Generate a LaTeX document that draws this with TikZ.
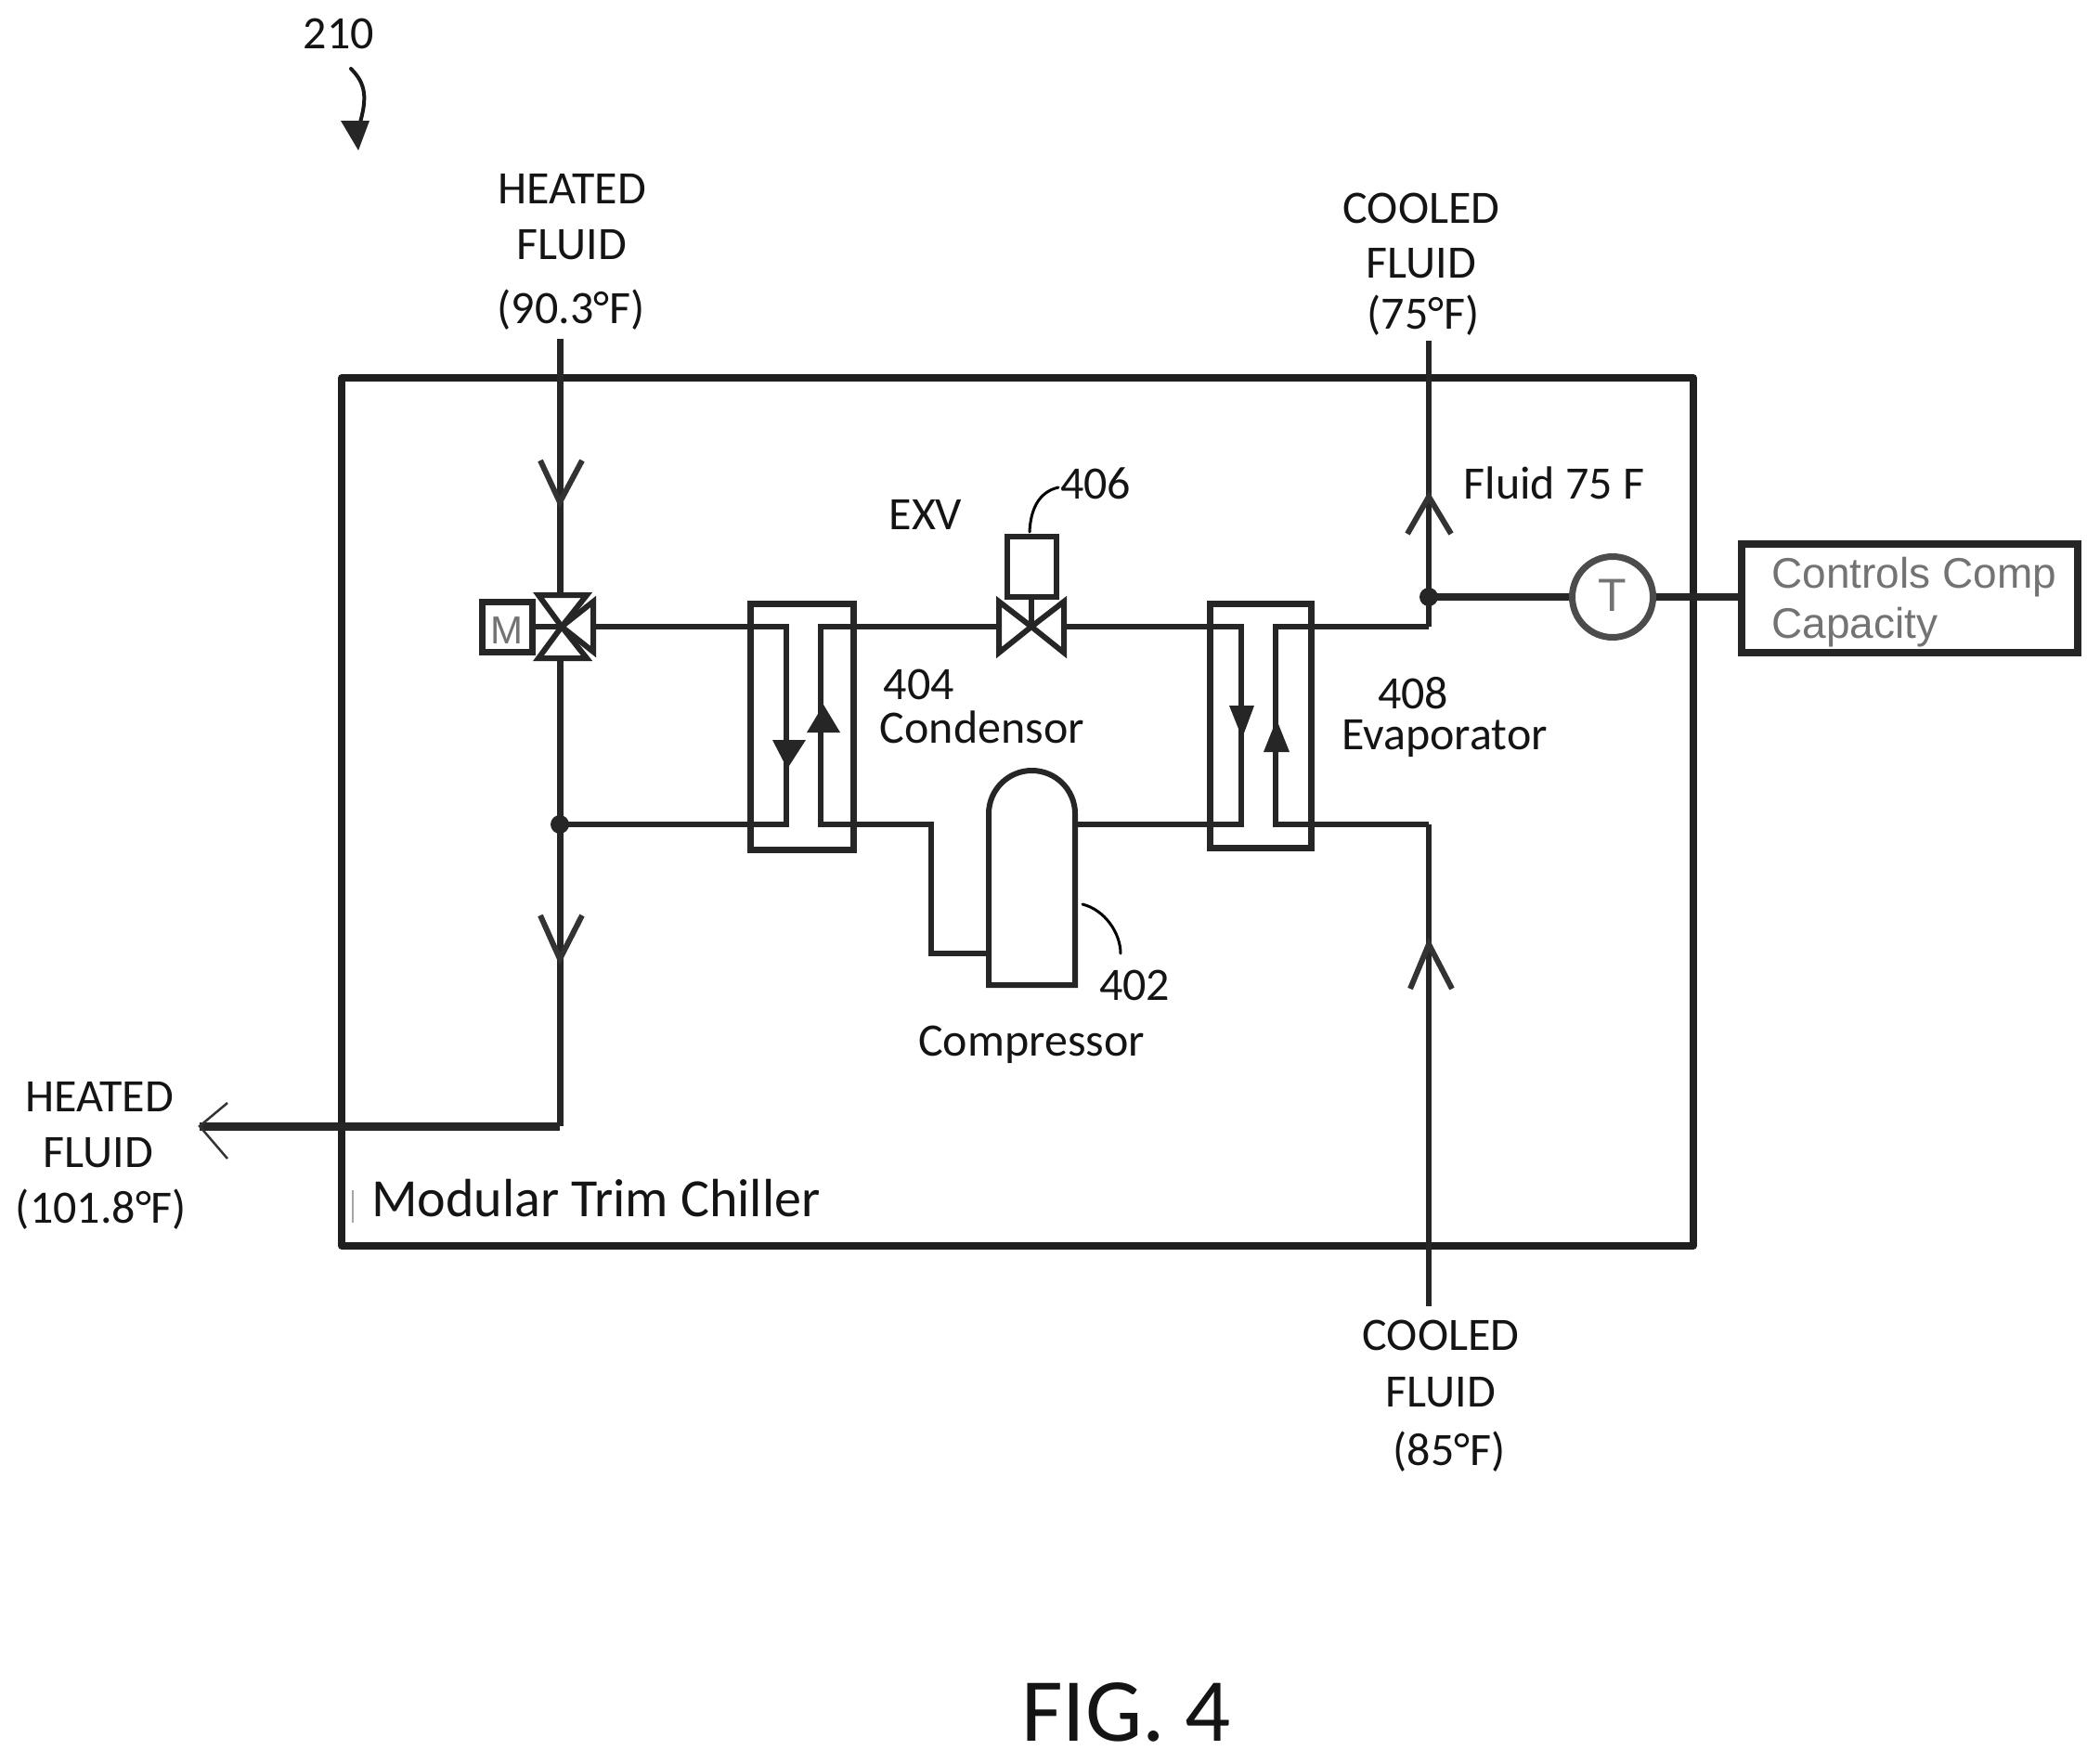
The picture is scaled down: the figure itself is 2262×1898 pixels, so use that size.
\documentclass[tikz,border=0pt]{standalone}
\usepackage{fontspec}
\setmainfont{Carlito}
\newfontfamily\fuzzy{Liberation Sans}
\newcommand{\fs}[1]{\fontsize{#1}{#1}\selectfont}
\tikzset{
  lbl/.style={inner sep=0pt,anchor=base,font=\fs{50},text=black!92},
  lblw/.style={inner sep=0pt,anchor=base west,font=\fs{50},text=black!92},
  gr/.style={inner sep=0pt,font=\fuzzy\fs{46},text=black!55},
  pipe/.style={draw=black!85,line width=7pt,line join=miter},
  thinp/.style={draw=black!85,line width=6pt,line join=miter},
  frame/.style={draw=black!88,line width=7.5pt,line join=round},
  barb/.style={draw=black!80,line width=6pt,line join=miter},
  lead/.style={draw=black,line width=3pt,line cap=round},
  tri/.style={fill=black!85,draw=none},
  valve/.style={draw=black!85,line width=6pt,line join=miter,fill=white},
}
\begin{document}
\begin{tikzpicture}[x=1pt,y=-1pt]
\useasboundingbox (0,0) rectangle (2262,1898);
\fill[white] (0,0) rectangle (2262,1898);
% named points
\coordinate (heatIn) at (603,365);
\coordinate (heatJ) at (603,888);
\coordinate (heatCorner) at (603,1213);
\coordinate (heatOut) at (215,1213);
\coordinate (coolTop) at (1539,367);
\coordinate (coolJ) at (1539,643);
\coordinate (coolCornerA) at (1539,675);
\coordinate (coolCornerB) at (1539,888);
\coordinate (coolBot) at (1539,1407);
% module frame
\draw[frame] (368,407) rectangle (1824,1342);
\draw[black!35,line width=2pt] (380,1282) -- (380,1317);
% main pipes
\draw[pipe] (heatIn) -- (heatCorner);
\draw[pipe,line width=9pt] (heatCorner) -- (heatOut);
\draw[barb,line width=2.5pt] (245,1188) -- (heatOut) -- (245,1248);
\draw[barb] (582,496) -- (603,541) -- (627,496);
\draw[barb] (582,986) -- (603,1033) -- (627,986);
\fill[black!85] (heatJ) circle (10);
% upper and lower lines
\draw[thinp] (639,675) -- (847,675) -- (847,888) -- (heatJ);
\draw[thinp] (1074,675) -- (884,675) -- (884,888) -- (1003,888) -- (1003,1027) -- (1065,1027);
\draw[thinp] (1148,675) -- (1337,675) -- (1337,888) -- (1158,888);
\draw[thinp] (coolCornerA) -- (1374,675) -- (1374,888) -- (coolCornerB);
\draw[pipe,line width=6pt] (coolTop) -- (coolCornerA);
\draw[pipe,line width=6pt] (coolCornerB) -- (coolBot);
\draw[barb] (1516,575) -- (1539,535) -- (1563,575);
\draw[barb] (1519,1065) -- (1539,1017) -- (1564,1065);
% condenser
\node[draw=black!85,line width=7pt,minimum width=111pt,minimum height=265pt,inner sep=0pt] (cond) at (863.5,782.5) {};
\draw[tri] (832,797) -- (868,797) -- (848,828) -- cycle;
\draw[tri] (869,789) -- (905,789) -- (887,759) -- cycle;
% evaporator
\node[draw=black!85,line width=7pt,minimum width=109pt,minimum height=263pt,inner sep=0pt] (evap) at (1358,781.5) {};
\draw[tri] (1324,760) -- (1351,760) -- (1338,795) -- cycle;
\draw[tri] (1361,810) -- (1389,810) -- (1375,775) -- cycle;
% compressor
\draw[thinp,fill=white] (1065,1061) -- (1065,876.5) arc[start angle=180,end angle=360,radius=46.5] -- (1158,1061) -- cycle;
\coordinate (compLead) at (1166,974);
\draw[lead] (compLead) .. controls (1190,980) and (1207,1005) .. (1207,1027);
% 3-way valve
\node[draw=black!85,line width=7pt,minimum width=54pt,minimum height=54pt,inner sep=0pt] (motor) at (546,675) {};
\node[inner sep=0pt,anchor=base,font=\fuzzy\fs{42},text=black!55] (motorM) at (546,693) {M};
\draw[thinp] (motor.east) -- (605,675);
\draw[valve] (580,641) -- (632,641) -- (605,675) -- cycle;
\draw[valve] (580,709) -- (632,709) -- (605,675) -- cycle;
\draw[valve] (639,648) -- (639,702) -- (605,675) -- cycle;
% EXV
\node[draw=black!85,line width=6pt,minimum width=53pt,minimum height=65pt,inner sep=0pt] (act) at (1111,610.5) {};
\draw[thinp] (act.south) -- (1111,675);
\draw[valve] (1076,648) -- (1076,703) -- (1111,675) -- cycle;
\draw[valve] (1146,648) -- (1146,703) -- (1111,675) -- cycle;
\draw[lead] (1109,573) .. controls (1110,550) and (1118,530) .. (1140,525);
% temperature branch
\node[circle,draw=black!70,line width=7pt,minimum size=87pt,inner sep=0pt] (tsense) at (1737,643) {};
\node[inner sep=0pt,anchor=base,font=\fuzzy\fs{50},text=black!55] (tmark) at (1737,658) {T};
\node[draw=black!85,line width=8pt,minimum width=362pt,minimum height=117pt,inner sep=0pt] (ctrl) at (2057,644.5) {};
\draw[pipe,line width=8pt] (coolJ) -- (tsense);
\draw[pipe,line width=8pt] (tsense) -- (ctrl.west |- tsense);
\fill[black!85] (coolJ) circle (10);
% fuzzy labels
\node[gr,anchor=base west] (ctrlA) at (1908,633) {Controls Comp};
\node[gr,anchor=base west] (ctrlB) at (1908,687) {Capacity};
% reference arrow
\draw[line width=4pt,black!90,line cap=round] (378,74) .. controls (394,90) and (396,105) .. (387,135);
\draw[tri] (367,130) -- (398,130) -- (386,162) -- cycle;
% labels
\node[lbl] (t210) at (365,52) {210};
\node[lbl] (hiA) at (616,219) {HEATED};
\node[lbl] (hiB) at (616,279) {FLUID};
\node[lbl] (hiC) at (615,348) {(90.3°F)};
\node[lbl] (coA) at (1531,240) {COOLED};
\node[lbl] (coB) at (1531,299) {FLUID};
\node[lbl] (coC) at (1533,354) {(75°F)};
\node[lbl] (fl) at (1674,537) {Fluid 75 F};
\node[lbl] (exv) at (997,570) {EXV};
\node[lbl] (n406) at (1180,537) {406};
\node[lbl] (n404) at (990,753) {404};
\node[lbl] (condT) at (1058,800) {Condensor};
\node[lbl] (n408) at (1522,763) {408};
\node[lbl] (evapT) at (1556,807) {Evaporator};
\node[lbl] (n402) at (1222,1077) {402};
\node[lbl] (compT) at (1111,1137) {Compressor};
\node[lbl] (hoA) at (107,1197) {HEATED};
\node[lbl] (hoB) at (106,1257) {FLUID};
\node[lbl] (hoC) at (109,1317) {(101.8°F)};
\node[lblw,font=\fs{58}] (mod) at (400,1310) {Modular Trim Chiller};
\node[lbl] (ciA) at (1552,1454) {COOLED};
\node[lbl] (ciB) at (1552,1515) {FLUID};
\node[lbl] (ciC) at (1561,1578) {(85°F)};
\node[lbl,font=\fs{97}] (fig) at (1213,1875) {FIG. 4};
\end{tikzpicture}
\end{document}
